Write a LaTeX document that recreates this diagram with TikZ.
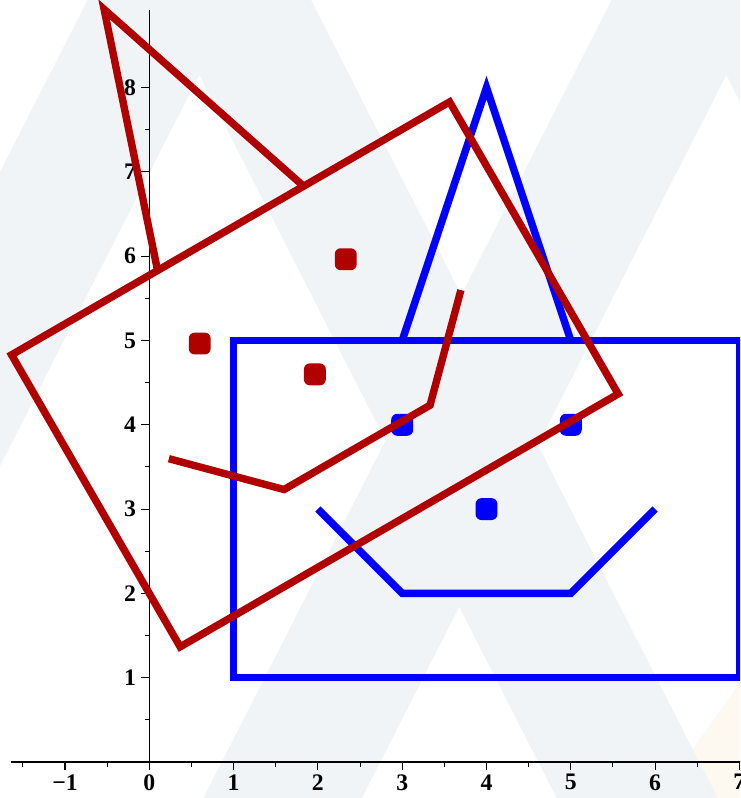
\documentclass[tikz,border=0pt]{standalone}
\usepackage{fontspec}
\setmainfont{Liberation Serif}
\definecolor{mapleblue}{RGB}{0,0,255}
\definecolor{maplered}{RGB}{176,0,0}
\definecolor{wmgray}{RGB}{240,244,247}
\definecolor{wmyellow}{RGB}{253,249,240}
% the face: rectangle, hat, mouth and three dots
\newcommand{\facepic}[2]{%
  \draw[#1] (1,1) rectangle (7,5);
  \draw[#1] (3,5) -- (4,8) -- (5,5);
  \draw[#1] (2,3) -- (3,2) -- (5,2) -- (6,3);
  \foreach \p [count=\i] in {(3,4),(5,4),(4,3)} \node[#1, dotmark] (#2dot\i) at \p {};
}
% one pale chevron of the background
\newcommand{\wmlambda}[3]{%
  \fill[wmgray, even odd rule] (#1,#2) -- ++(-8,-15.7) -- ++(16,0) -- cycle
    (#1,#3) -- ++(-8,-15.7) -- ++(16,0) -- cycle;
}
\begin{document}
\begin{tikzpicture}[font=\fontsize{8}{9}\selectfont\bfseries,
  axisline/.style={black, line width=0.35pt},
  blueface/.style={mapleblue, line width=2.5pt},
  redface/.style={maplered, line width=2.5pt},
  dotmark/.style={fill, draw=none, rectangle, rounded corners=2pt, minimum size=0.26cm, inner sep=0pt},
  xlab/.style={anchor=north, inner sep=0pt},
  ylab/.style={anchor=east, inner sep=0pt}]
  \useasboundingbox (-1.771,-0.427) rectangle (7.008,9.039);
  \begin{scope}
    \clip (-1.771,-0.427) rectangle (7.008,9.039);
    % background
    \fill[wmyellow] (5.989,-0.5) -- (7.1,1.081) -- (7.1,-0.5) -- cycle;
    \wmlambda{0.593}{11.64}{8.15}
    \wmlambda{6.845}{11.71}{8.15}
    \wmlambda{3.677}{5.53}{1.839}

    % axes
    \draw[axisline] (-1.637,0) -- (7.05,0);
    \draw[axisline] (0,0) -- (0,8.92);
    \foreach \x in {-1,...,7} \draw[axisline] (\x,0) -- (\x,-0.1);
    \foreach \x in {-1.5,-0.5,...,6.5} \draw[axisline] (\x,0) -- (\x,-0.055);
    \foreach \y in {1,...,8} \draw[axisline] (0,\y) -- (-0.1,\y);
    \foreach \y in {0.5,1.5,...,8.5} \draw[axisline] (0,\y) -- (-0.055,\y);
    \node[xlab] (xm1) at (-1,-0.14) {−1};
    \foreach \x in {0,...,7} \node[xlab] (x\x) at (\x,-0.14) {\x};
    \foreach \y in {1,...,8} \node[ylab] (y\y) at (-0.15,\y) {\y};

    % blue face, then the same face turned by 30 degrees
    \facepic{blueface}{b}
    \begin{scope}[rotate=30]
      \facepic{redface}{r}
    \end{scope}
  \end{scope}
\end{tikzpicture}
\end{document}
